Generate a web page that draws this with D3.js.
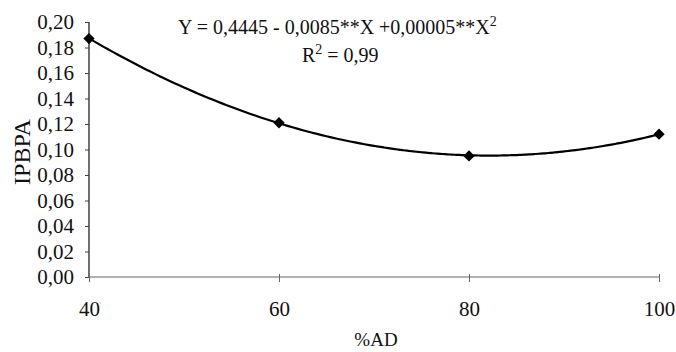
<!DOCTYPE html>
<html>
<head>
<meta charset="utf-8">
<script src="https://cdn.jsdelivr.net/npm/d3@7"></script>
<style>
  html, body { margin: 0; padding: 0; background: #fff; }
  svg { display: block; font-family: "Liberation Serif", "Times New Roman", serif; }
</style>
</head>
<body>
<svg id="chart" width="676" height="352"></svg>
<script>
// Observed IPBPA index at each water-availability level (%AD)
const adLevels = [40, 60, 80, 100];
const ipbpaValues = [0.187, 0.121, 0.095, 0.112];
const xTicks = [40, 60, 80, 100];
const yTicks = [0, 0.02, 0.04, 0.06, 0.08, 0.10, 0.12, 0.14, 0.16, 0.18, 0.20];
const equationText = "Y = 0,4445 - 0,0085**X +0,00005**X";
const r2Text = "0,99";

const svg = d3.select("#chart");
const x = d3.scaleLinear().domain([40, 100]).range([89, 659]);
const y = d3.scaleLinear().domain([0, 0.2]).range([277, 22]);
const fmt = v => d3.format(".2f")(v).replace(".", ",");

// Quadratic least-squares trend through the observed points
function quadFit(xs, ys) {
  const n = xs.length;
  let s = [0, 0, 0, 0, 0], t = [0, 0, 0];
  for (let i = 0; i < n; i++) {
    let p = 1;
    for (let k = 0; k < 5; k++) { s[k] += p; if (k < 3) t[k] += p * ys[i]; p *= xs[i]; }
  }
  const M = [[s[0], s[1], s[2], t[0]], [s[1], s[2], s[3], t[1]], [s[2], s[3], s[4], t[2]]];
  for (let i = 0; i < 3; i++) {
    for (let j = i + 1; j < 3; j++) {
      const f = M[j][i] / M[i][i];
      for (let k = i; k < 4; k++) M[j][k] -= f * M[i][k];
    }
  }
  const c = [0, 0, 0];
  for (let i = 2; i >= 0; i--) {
    let v = M[i][3];
    for (let k = i + 1; k < 3; k++) v -= M[i][k] * c[k];
    c[i] = v / M[i][i];
  }
  return c;
}
const coef = quadFit(adLevels, ipbpaValues);
const trend = d3.range(40, 100.01, 0.5).map(v => [v, coef[0] + coef[1] * v + coef[2] * v * v]);

// Y axis
const yAxis = d3.axisLeft(y).tickValues(yTicks).tickFormat(fmt).tickSize(4).tickPadding(11);
const gy = svg.append("g").attr("transform", "translate(89,0)").call(yAxis);
gy.select(".domain").attr("stroke", "#333").attr("stroke-width", 1.4).attr("d", `M0,${y(0.2)}V${y(0)}`);
gy.selectAll(".tick line").attr("stroke", "#444");
gy.selectAll(".tick text").attr("font-size", 21).attr("fill", "#111").attr("font-family", "Liberation Serif");

// X axis
const xAxis = d3.axisBottom(x).tickValues(xTicks).tickFormat(d3.format("d")).tickSize(5).tickPadding(19);
const gx = svg.append("g").attr("transform", "translate(0,277)").call(xAxis);
gx.select(".domain").attr("stroke", "#666").attr("stroke-width", 1.1).attr("d", `M${x(40)},0H${x(100)}`);
gx.selectAll(".tick line").attr("stroke", "#666").attr("y1", -3);
gx.selectAll(".tick text").attr("font-size", 21).attr("fill", "#111").attr("font-family", "Liberation Serif");

// Trend curve
svg.append("path")
  .datum(trend)
  .attr("fill", "none")
  .attr("stroke", "#000")
  .attr("stroke-width", 2.2)
  .attr("d", d3.line().x(d => x(d[0])).y(d => y(d[1])).curve(d3.curveBasis));

// Observed points as filled diamonds (rotated squares)
svg.append("g").selectAll("path")
  .data(adLevels.map((v, i) => [v, ipbpaValues[i]]))
  .join("path")
  .attr("transform", d => `translate(${x(d[0])},${y(d[1])}) rotate(45)`)
  .attr("d", d3.symbol(d3.symbolSquare, 64))
  .attr("fill", "#000");

// Axis titles
svg.append("text")
  .attr("transform", "translate(30,152) rotate(-90)")
  .attr("text-anchor", "middle")
  .attr("font-size", 24)
  .attr("fill", "#111")
  .text("IPBPA");
svg.append("text")
  .attr("x", 376).attr("y", 346)
  .attr("text-anchor", "middle")
  .attr("font-size", 19)
  .attr("fill", "#111")
  .text("%AD");

// Regression equation
const eq = svg.append("text").attr("x", 178).attr("y", 34).attr("font-size", 20).attr("fill", "#111");
eq.append("tspan").text(equationText);
eq.append("tspan").attr("dy", -8).attr("font-size", 14).text("2");
const r2 = svg.append("text").attr("x", 302).attr("y", 62).attr("font-size", 20).attr("fill", "#111");
r2.append("tspan").text("R");
r2.append("tspan").attr("dy", -8).attr("font-size", 14).text("2");
r2.append("tspan").attr("dy", 8).text(" = " + r2Text);
</script>
</body>
</html>
